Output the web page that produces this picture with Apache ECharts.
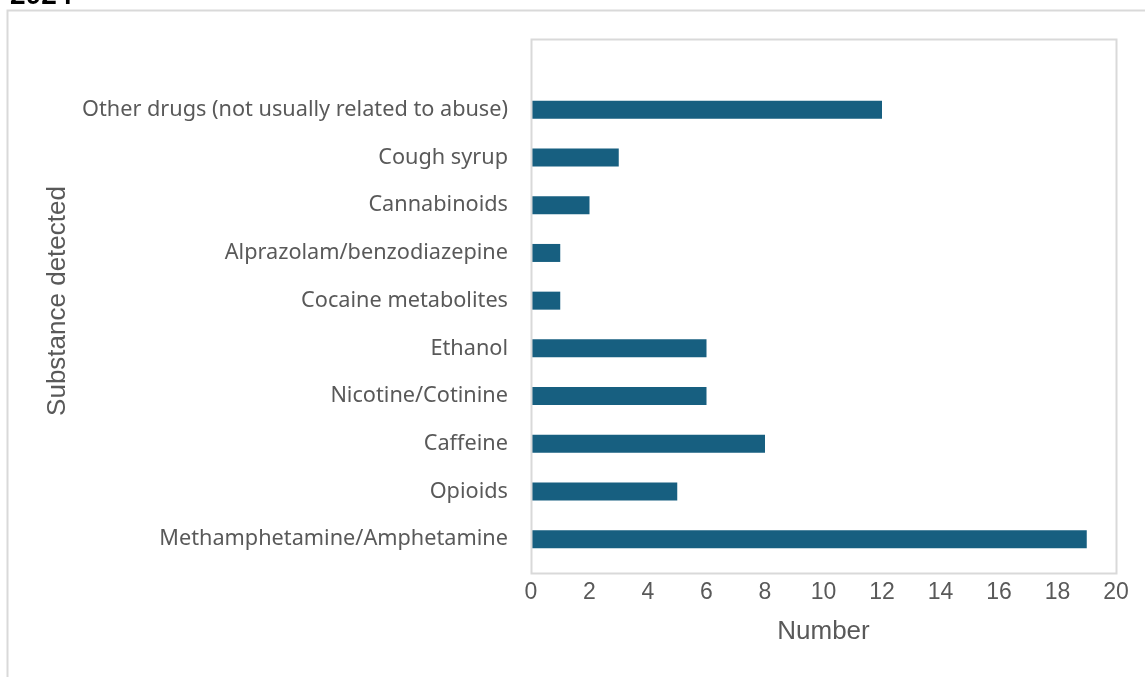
<!DOCTYPE html>
<html><head><meta charset="utf-8">
<script src="https://cdn.jsdelivr.net/npm/echarts@6/dist/echarts.min.js"></script>
<style>html,body{margin:0;padding:0;background:#fff}#c{width:1145px;height:677px}</style>
</head><body><div id="c"></div>
<script>
var categories = ["Methamphetamine/Amphetamine","Opioids","Caffeine","Nicotine/Cotinine","Ethanol","Cocaine metabolites","Alprazolam/benzodiazepine","Cannabinoids","Cough syrup","Other drugs (not usually related to abuse)"];
var values = [19,5,8,6,6,1,1,2,3,12];
var xTicks = {min:0,max:20,interval:2};
var chart = echarts.init(document.getElementById('c'));
var font = '"Noto Sans", "Open Sans", sans-serif';
var afont = '"Liberation Sans", Arial, sans-serif';
chart.setOption({
  animation:false,
  grid:{left:531,right:29,top:86,bottom:114,containLabel:false},
  xAxis:{type:'value',min:xTicks.min,max:xTicks.max,interval:xTicks.interval,
    axisLine:{show:false},axisTick:{show:false},splitLine:{show:false},
    axisLabel:{color:'#595959',fontSize:23,fontFamily:afont,margin:18},
    name:'Number',nameLocation:'middle',nameGap:56,
    nameTextStyle:{color:'#595959',fontSize:26,fontFamily:afont}},
  yAxis:{type:'category',data:categories,
    axisLine:{show:false},axisTick:{show:false},splitLine:{show:false},
    axisLabel:{color:'#595959',fontSize:21.7,fontFamily:font,margin:23,padding:[4,0,0,0]}},
  series:[{type:'bar',data:values,barWidth:18,itemStyle:{color:'#175f80'}}],
  graphic:[
    {type:'rect',shape:{x:7.5,y:10.5,width:1200,height:700},style:{fill:'none',stroke:'#d9d9d9',lineWidth:2},silent:true},
    {type:'rect',shape:{x:531.5,y:39.5,width:585,height:534},style:{fill:'none',stroke:'#d9d9d9',lineWidth:2},silent:true,z:10},
    {type:'text',x:58,y:301,rotation:Math.PI/2,style:{text:'Substance detected',fill:'#595959',font:'26px '+afont,textAlign:'center',textVerticalAlign:'middle'}},
    {type:'text',x:10,y:-18,style:{text:'2024',fill:'#000',font:'bold 28px '+afont}}
  ]
});
</script></body></html>
